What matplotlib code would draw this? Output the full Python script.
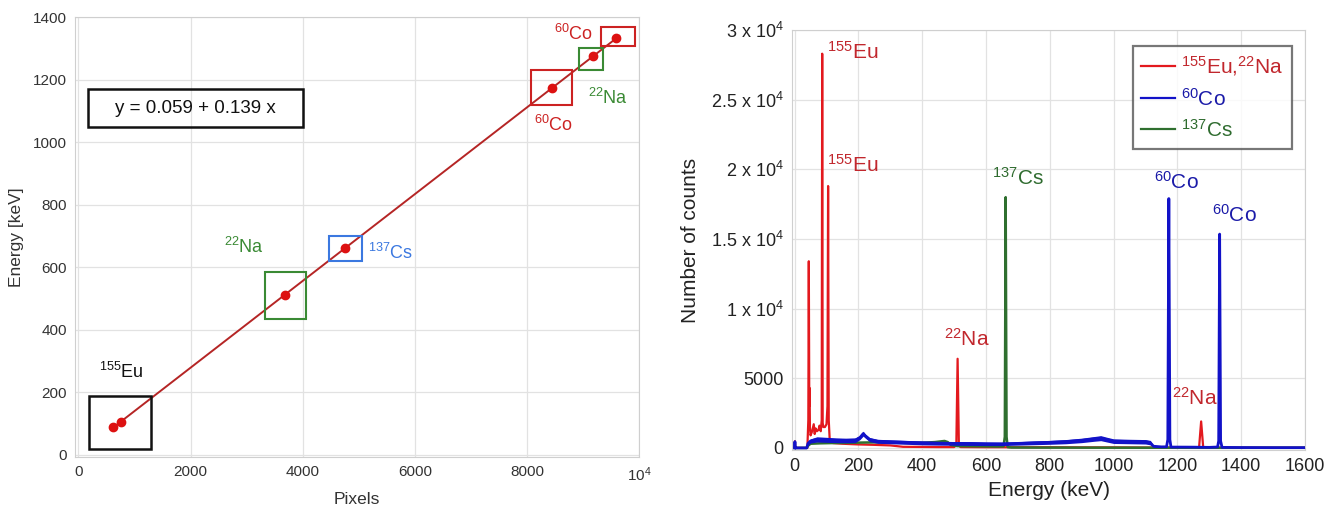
import matplotlib
matplotlib.use("Agg")
import matplotlib.pyplot as plt
from matplotlib.patches import Rectangle
import numpy as np

plt.rcParams['font.family'] = ['Liberation Sans', 'DejaVu Sans']
plt.rcParams['mathtext.fontset'] = 'custom'
plt.rcParams['mathtext.rm'] = 'Liberation Sans'
plt.rcParams['mathtext.it'] = 'Liberation Sans:italic'
plt.rcParams['mathtext.bf'] = 'Liberation Sans:bold'

# ---------------- Left panel data (calibration) ----------------
pixels = [622, 757, 3676, 4760, 8440, 9168, 9586]
energies = [86.5, 105.3, 511.0, 661.7, 1173.2, 1274.5, 1332.5]
fit_intercept = 0.059
fit_slope = 0.139
fit_range = [600, 9640]

box_x0 = [190, 3320, 4470, 8060, 8920, 9320]
box_x1 = [1300, 4060, 5060, 8790, 9345, 9925]
box_y0 = [18, 434, 618, 1118, 1232, 1308]
box_y1 = [186, 584, 701, 1232, 1301, 1368]
box_colors = ['#111111', '#3a8a34', '#3b78e0', '#cc2222', '#3a8a34', '#cc2222']

left_labels = [r'$^{155}$Eu', r'$^{22}$Na', r'$^{137}$Cs', r'$^{60}$Co', r'$^{22}$Na', r'$^{60}$Co']
left_label_x = [770, 2950, 5560, 8470, 9440, 8830]
left_label_y = [265, 665, 645, 1056, 1140, 1345]
left_label_colors = ['#111111', '#3a8a34', '#3b78e0', '#cc2222', '#3a8a34', '#cc2222']

left_xticks = [0, 2000, 4000, 6000, 8000, 10000]
left_xticklabels = ['0', '2000', '4000', '6000', '8000', r'10$^4$']
left_yticks = [0, 200, 400, 600, 800, 1000, 1200, 1400]

eq_text = 'y = 0.059 + 0.139 x'

# ---------------- Right panel data (spectra) ----------------
red_E = [0, 1, 2, 3, 40, 43, 44.5, 46, 47, 48,
         50, 55, 60, 63, 66, 70, 75, 78, 82, 85,
         86.5, 88, 90, 95, 100, 103, 105, 107, 110, 120,
         150, 200, 250, 300, 340, 400, 450, 500, 507, 511,
         515, 520, 600, 700, 800, 900, 1000, 1100, 1200, 1268,
         1274.5, 1281, 1300, 1400, 1500, 1600]
red_C = [0, 480, 0, 0, 0, 2000, 13400, 3000, 4300, 1500,
         900, 1200, 1700, 1000, 1400, 1200, 1300, 1600, 1200, 2000,
         28300, 1800, 1500, 1500, 1700, 3000, 18800, 2000, 600, 350,
         300, 250, 220, 180, 80, 70, 60, 60, 200, 6400,
         200, 60, 50, 50, 50, 40, 40, 30, 30, 30,
         1900, 30, 20, 15, 10, 10]

blue_E = [0, 1, 2, 3, 38, 42, 50, 70, 100, 130,
          160, 190, 205, 215, 222, 235, 260, 300, 350, 400,
          450, 500, 550, 600, 650, 700, 750, 800, 850, 900,
          940, 960, 980, 1000, 1050, 1100, 1115, 1125, 1150, 1166,
          1170, 1173.2, 1176.5, 1180, 1200, 1250, 1300, 1326, 1329.5, 1332.5,
          1335.5, 1340, 1400, 1500, 1600]
blue_lo = [0, 450, 0, 0, 0, 200, 350, 420, 400, 380,
           370, 380, 600, 850, 700, 450, 330, 300, 260, 220,
           200, 190, 180, 170, 170, 200, 230, 260, 300, 380,
           480, 520, 420, 320, 300, 280, 220, 60, 30, 40,
           600, 17900, 600, 30, 30, 30, 20, 40, 500, 15350,
           500, 20, 15, 10, 10]
blue_hi = [0, 450, 0, 0, 0, 450, 650, 800, 760, 720,
           700, 720, 900, 1200, 1000, 750, 620, 580, 540, 500,
           470, 460, 450, 420, 410, 450, 500, 540, 600, 700,
           820, 880, 760, 650, 620, 600, 540, 180, 120, 120,
           600, 17900, 600, 90, 90, 80, 60, 90, 500, 15350,
           500, 60, 40, 30, 30]

green_E = [0, 38, 42, 50, 80, 120, 160, 200, 250, 300,
           350, 400, 440, 470, 480, 490, 510, 550, 600, 640,
           655, 659, 661.7, 664.5, 668, 680, 750, 900, 1100, 1300,
           1600]
green_C = [0, 0, 150, 300, 330, 350, 360, 380, 400, 380,
           360, 370, 420, 500, 420, 200, 130, 120, 110, 100,
           110, 800, 18000, 800, 60, 30, 25, 20, 15, 10,
           10]

series_names = [r'$^{155}$Eu,$^{22}$Na', r'$^{60}$Co', r'$^{137}$Cs']

right_labels = [r'$^{155}$Eu', r'$^{155}$Eu', r'$^{137}$Cs', r'$^{60}$Co', r'$^{60}$Co', r'$^{22}$Na', r'$^{22}$Na']
right_label_x = [100, 100, 700, 1197, 1378, 540, 1255]
right_label_y = [28400, 20300, 19400, 19100, 16700, 7850, 3570]
right_label_colors = ['#c1272d', '#c1272d', '#2e6b2e', '#1a1aa8', '#1a1aa8', '#c1272d', '#c1272d']
right_label_ha = ['left', 'left', 'center', 'center', 'center', 'center', 'center']

right_xticks = [0, 200, 400, 600, 800, 1000, 1200, 1400, 1600]
right_yticks = [0, 5000, 10000, 15000, 20000, 25000, 30000]
right_yticklabels = ['0', '5000', r'1 x 10$^4$', r'1.5 x 10$^4$', r'2 x 10$^4$', r'2.5 x 10$^4$', r'3 x 10$^4$']

RED = '#e3191e'
BLUE = '#1212c8'
GREEN = '#2f6f2f'

fig = plt.figure(figsize=(13.35, 5.07), dpi=100)

# ---------------- Left axes ----------------
ax1 = fig.add_axes([0.0562, 0.0986, 0.4228, 0.8674])
ax1.set_xlim(-60, 10000)
ax1.set_ylim(-8, 1400)
ax1.grid(True, color='#e2e2e2', linewidth=0.9)
ax1.set_axisbelow(True)
for s in ax1.spines.values():
    s.set_color('#cfcfcf')
ax1.tick_params(length=0, labelsize=11, colors='#333333', pad=6)
ax1.set_xticks(left_xticks)
ax1.set_xticklabels(left_xticklabels)
ax1.set_yticks(left_yticks)
ax1.set_xlabel('Pixels', fontsize=12.5, color='#333333', labelpad=6)
ax1.set_ylabel('Energy [keV]', fontsize=12.5, color='#333333', labelpad=6)

fx = np.array(fit_range, dtype=float)
ax1.plot(fx, fit_intercept + fit_slope * fx, color='#b52525', lw=1.4, zorder=3)
ax1.plot(pixels, energies, 'o', color='#dd1111', ms=6, zorder=4)

for x0, x1, y0, y1, c in zip(box_x0, box_x1, box_y0, box_y1, box_colors):
    lw = 1.8 if c == '#111111' else 1.5
    ax1.add_patch(Rectangle((x0, y0), x1 - x0, y1 - y0, fill=False,
                            edgecolor=c, lw=lw, zorder=5))

for t, x, y, c in zip(left_labels, left_label_x, left_label_y, left_label_colors):
    ax1.text(x, y, t, color=c, fontsize=13, ha='center', va='center', zorder=6)

ax1.add_patch(Rectangle((174, 1047), 4000 - 174, 1169 - 1047, fill=False,
                        edgecolor='#111111', lw=1.8, zorder=5))
ax1.text(2087, 1108, eq_text, fontsize=13.5, ha='center', va='center', color='#111111')

# ---------------- Right axes ----------------
ax2 = fig.add_axes([0.5933, 0.1124, 0.3842, 0.8284])
ax2.set_xlim(-8, 1600)
ax2.set_ylim(-150, 30000)
ax2.grid(True, color='#e2e2e2', linewidth=0.9)
ax2.set_axisbelow(True)
for s in ax2.spines.values():
    s.set_color('#cfcfcf')
ax2.tick_params(length=0, labelsize=13, colors='#222222', pad=6)
ax2.set_xticks(right_xticks)
ax2.set_yticks(right_yticks)
ax2.set_yticklabels(right_yticklabels)
ax2.set_xlabel('Energy (keV)', fontsize=15, color='#222222', labelpad=4)
ax2.set_ylabel('Number of counts', fontsize=15, color='#222222', labelpad=8)

blue_mid = (np.array(blue_lo) + np.array(blue_hi)) / 2.0
l_red, = ax2.plot(red_E, red_C, color=RED, lw=1.6, zorder=2)
l_green, = ax2.plot(green_E, green_C, color=GREEN, lw=1.8, zorder=3)
ax2.fill_between(blue_E, blue_lo, blue_hi, color=BLUE, lw=0, zorder=4)
l_blue, = ax2.plot(blue_E, blue_mid, color=BLUE, lw=2.0, zorder=4)

for t, x, y, c, ha in zip(right_labels, right_label_x, right_label_y, right_label_colors, right_label_ha):
    ax2.text(x, y, t, color=c, fontsize=15, ha=ha, va='center', zorder=6)

leg = ax2.legend([l_red, l_blue, l_green], series_names, loc='upper left',
                 bbox_to_anchor=(0.665, 0.962), fontsize=15, frameon=True,
                 fancybox=False, handlelength=1.6, handletextpad=0.3,
                 borderpad=0.4, labelspacing=0.45, borderaxespad=0)
leg.get_frame().set_edgecolor('#555555')
leg.get_frame().set_linewidth(1.6)
for line in leg.get_lines():
    line.set_linewidth(1.6)
for txt, c in zip(leg.get_texts(), ['#c1272d', '#1a1aa8', '#2e6b2e']):
    txt.set_color(c)

fig.savefig('out.png', dpi=100)
